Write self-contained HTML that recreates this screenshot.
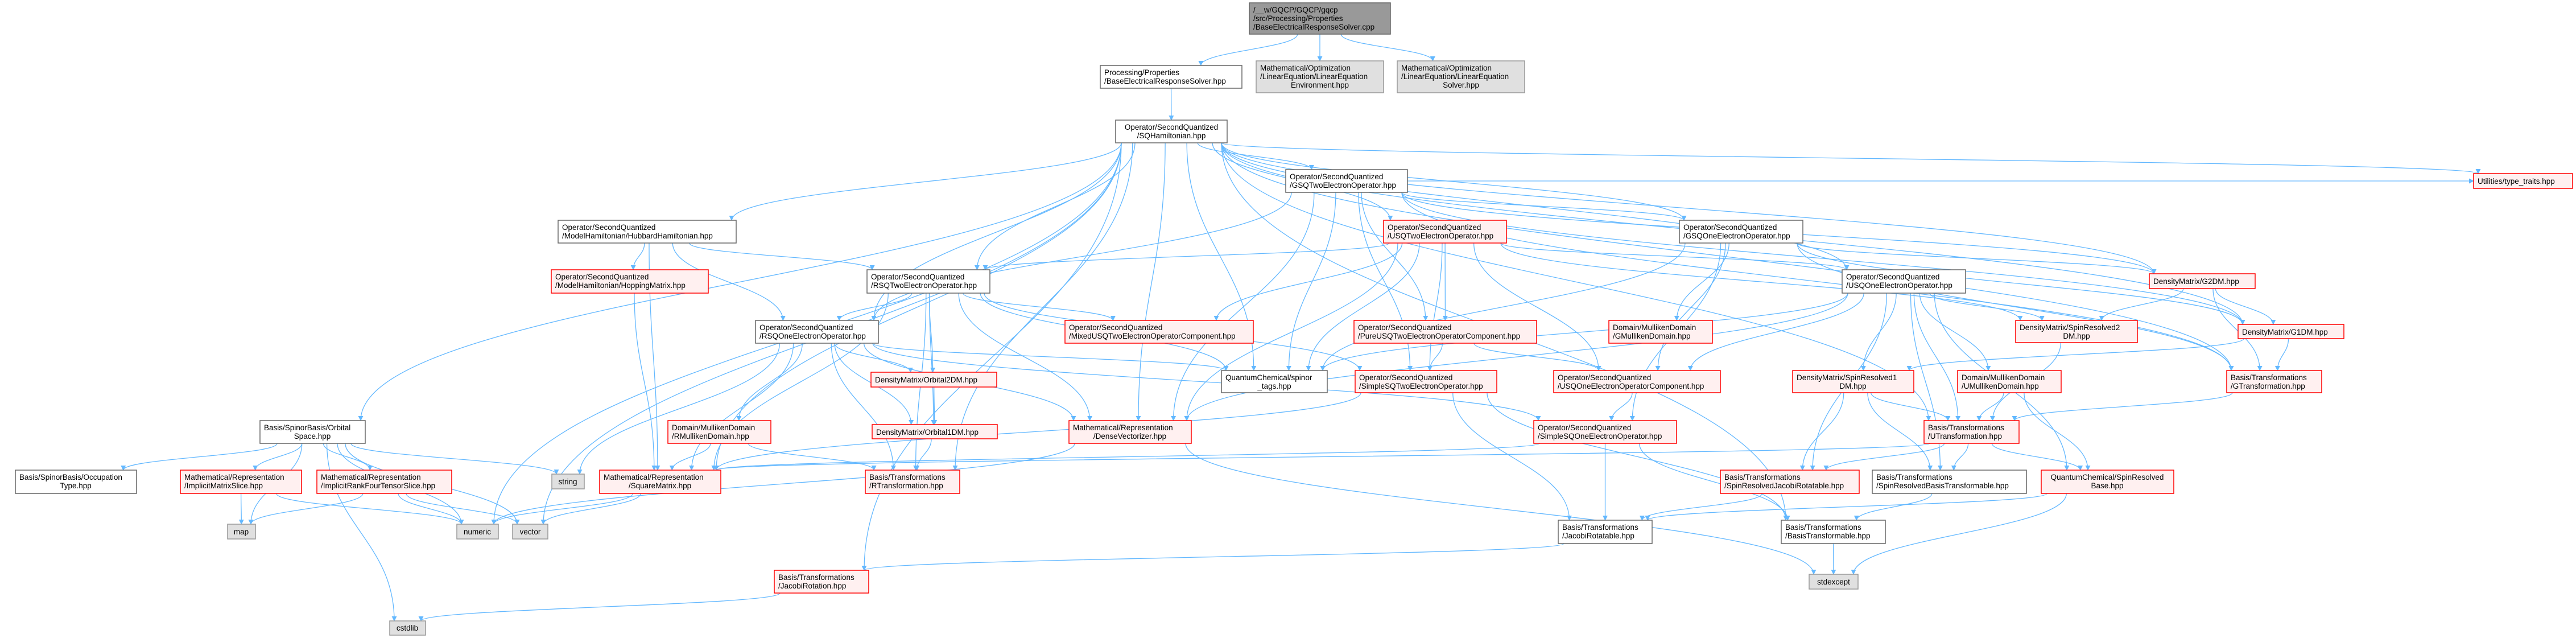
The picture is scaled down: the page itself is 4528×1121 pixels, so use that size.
<!DOCTYPE html>
<html><head><meta charset="utf-8"><style>
html,body{margin:0;padding:0;background:#fff;}
svg{display:block}
text{font-family:"Liberation Sans",Arial,sans-serif;font-size:13.5px;fill:#000}
.w{fill:#fff;stroke:#666;stroke-width:1.5}
.r{fill:#fff0f0;stroke:#f00;stroke-width:1.5}
.g{fill:#e0e0e0;stroke:#999;stroke-width:1.5}
.k{fill:#999;stroke:#666;stroke-width:1.5}
.e{fill:none;stroke:#63b8ff;stroke-width:1.3}
.m{text-anchor:middle}
</style></head><body>
<svg id="s" width="4528" height="1121" xmlns="http://www.w3.org/2000/svg">
<defs><marker id="a" viewBox="0 0 10 10" refX="9" refY="5" markerWidth="9" markerHeight="9" orient="auto" markerUnits="userSpaceOnUse"><path d="M0,0 L10,5 L0,10z" fill="#63b8ff"/></marker></defs>
<g id="edges"></g>
<g id="nodes">
<rect class="k" x="2196" y="5" width="248" height="55"/>
<text x="2203" y="22">/__w/GQCP/GQCP/gqcp</text><text x="2203" y="37">/src/Processing/Properties</text><text x="2203" y="52">/BaseElectricalResponseSolver.cpp</text>

<rect class="w" x="1934" y="115" width="249" height="40"/>
<text x="1941" y="132">Processing/Properties</text><text x="1941" y="147">/BaseElectricalResponseSolver.hpp</text>

<rect class="g" x="2208" y="107" width="224" height="56"/>
<text x="2215" y="124">Mathematical/Optimization</text><text x="2215" y="139">/LinearEquation/LinearEquation</text><text class="m" x="2320" y="154">Environment.hpp</text>

<rect class="g" x="2456" y="107" width="224" height="56"/>
<text x="2463" y="124">Mathematical/Optimization</text><text x="2463" y="139">/LinearEquation/LinearEquation</text><text class="m" x="2568" y="154">Solver.hpp</text>

<rect class="w" x="1961" y="211" width="196" height="40"/>
<text class="m" x="2059" y="228">Operator/SecondQuantized</text><text class="m" x="2059" y="243">/SQHamiltonian.hpp</text>

<rect class="w" x="2260" y="298" width="214" height="40"/>
<text x="2267" y="315">Operator/SecondQuantized</text><text x="2267" y="330">/GSQTwoElectronOperator.hpp</text>

<rect class="w" x="981" y="387" width="313" height="40"/>
<text x="988" y="404">Operator/SecondQuantized</text><text x="988" y="419">/ModelHamiltonian/HubbardHamiltonian.hpp</text>

<rect class="r" x="2432" y="387" width="216" height="40"/>
<text x="2439" y="404">Operator/SecondQuantized</text><text x="2439" y="419">/USQTwoElectronOperator.hpp</text>

<rect class="w" x="2952" y="387" width="217" height="40"/>
<text x="2959" y="404">Operator/SecondQuantized</text><text x="2959" y="419">/GSQOneElectronOperator.hpp</text>

<rect class="r" x="4348" y="305" width="174" height="26"/>
<text x="4355" y="323">Utilities/type_traits.hpp</text>

<rect class="r" x="969" y="474" width="276" height="41"/>
<text x="976" y="491">Operator/SecondQuantized</text><text x="976" y="506">/ModelHamiltonian/HoppingMatrix.hpp</text>

<rect class="w" x="1524" y="474" width="216" height="41"/>
<text x="1531" y="491">Operator/SecondQuantized</text><text x="1531" y="506">/RSQTwoElectronOperator.hpp</text>

<rect class="w" x="3238" y="474" width="217" height="41"/>
<text x="3245" y="491">Operator/SecondQuantized</text><text x="3245" y="506">/USQOneElectronOperator.hpp</text>

<rect class="r" x="3778" y="481" width="186" height="26"/>
<text x="3785" y="499">DensityMatrix/G2DM.hpp</text>

<rect class="w" x="1328" y="563" width="216" height="40"/>
<text x="1335" y="580">Operator/SecondQuantized</text><text x="1335" y="595">/RSQOneElectronOperator.hpp</text>

<rect class="r" x="1872" y="563" width="331" height="40"/>
<text x="1879" y="580">Operator/SecondQuantized</text><text x="1879" y="595">/MixedUSQTwoElectronOperatorComponent.hpp</text>

<rect class="r" x="2380" y="563" width="321" height="40"/>
<text x="2387" y="580">Operator/SecondQuantized</text><text x="2387" y="595">/PureUSQTwoElectronOperatorComponent.hpp</text>

<rect class="r" x="2828" y="563" width="182" height="40"/>
<text x="2835" y="580">Domain/MullikenDomain</text><text x="2835" y="595">/GMullikenDomain.hpp</text>

<rect class="r" x="3543" y="563" width="214" height="39"/>
<text x="3550" y="580">DensityMatrix/SpinResolved2</text><text class="m" x="3650" y="595">DM.hpp</text>

<rect class="r" x="3934" y="570" width="186" height="25"/>
<text x="3941" y="588">DensityMatrix/G1DM.hpp</text>

<rect class="r" x="1531" y="654" width="221" height="26"/>
<text x="1538" y="672">DensityMatrix/Orbital2DM.hpp</text>

<rect class="w" x="2147" y="651" width="186" height="39"/>
<text x="2154" y="668">QuantumChemical/spinor</text><text class="m" x="2240" y="683">_tags.hpp</text>

<rect class="r" x="2382" y="651" width="249" height="39"/>
<text x="2389" y="668">Operator/SecondQuantized</text><text x="2389" y="683">/SimpleSQTwoElectronOperator.hpp</text>

<rect class="r" x="2731" y="651" width="293" height="39"/>
<text x="2738" y="668">Operator/SecondQuantized</text><text x="2738" y="683">/USQOneElectronOperatorComponent.hpp</text>

<rect class="r" x="3151" y="651" width="213" height="39"/>
<text x="3158" y="668">DensityMatrix/SpinResolved1</text><text class="m" x="3257" y="683">DM.hpp</text>

<rect class="r" x="3441" y="651" width="182" height="39"/>
<text x="3448" y="668">Domain/MullikenDomain</text><text x="3448" y="683">/UMullikenDomain.hpp</text>

<rect class="r" x="3914" y="651" width="167" height="39"/>
<text x="3921" y="668">Basis/Transformations</text><text x="3921" y="683">/GTransformation.hpp</text>

<rect class="w" x="457" y="739" width="185" height="40"/>
<text x="464" y="756">Basis/SpinorBasis/Orbital</text><text class="m" x="549" y="771">Space.hpp</text>

<rect class="r" x="1174" y="739" width="181" height="40"/>
<text x="1181" y="756">Domain/MullikenDomain</text><text x="1181" y="771">/RMullikenDomain.hpp</text>

<rect class="r" x="1533" y="746" width="220" height="25"/>
<text x="1540" y="764">DensityMatrix/Orbital1DM.hpp</text>

<rect class="r" x="1879" y="739" width="215" height="40"/>
<text x="1886" y="756">Mathematical/Representation</text><text class="m" x="1986" y="771">/DenseVectorizer.hpp</text>

<rect class="r" x="2696" y="739" width="251" height="40"/>
<text x="2703" y="756">Operator/SecondQuantized</text><text x="2703" y="771">/SimpleSQOneElectronOperator.hpp</text>

<rect class="r" x="3382" y="739" width="167" height="40"/>
<text x="3389" y="756">Basis/Transformations</text><text x="3389" y="771">/UTransformation.hpp</text>

<rect class="w" x="27" y="826" width="213" height="41"/>
<text x="34" y="843">Basis/SpinorBasis/Occupation</text><text class="m" x="133" y="858">Type.hpp</text>

<rect class="r" x="317" y="826" width="213" height="41"/>
<text x="324" y="843">Mathematical/Representation</text><text x="324" y="858">/ImplicitMatrixSlice.hpp</text>

<rect class="r" x="557" y="826" width="237" height="41"/>
<text x="564" y="843">Mathematical/Representation</text><text x="564" y="858">/ImplicitRankFourTensorSlice.hpp</text>

<rect class="g" x="970" y="833" width="57" height="26"/>
<text class="m" x="998" y="851">string</text>

<rect class="r" x="1054" y="826" width="213" height="41"/>
<text x="1061" y="843">Mathematical/Representation</text><text class="m" x="1160" y="858">/SquareMatrix.hpp</text>

<rect class="r" x="1521" y="826" width="166" height="41"/>
<text x="1528" y="843">Basis/Transformations</text><text x="1528" y="858">/RTransformation.hpp</text>

<rect class="r" x="3024" y="826" width="244" height="41"/>
<text x="3031" y="843">Basis/Transformations</text><text x="3031" y="858">/SpinResolvedJacobiRotatable.hpp</text>

<rect class="w" x="3291" y="826" width="271" height="41"/>
<text x="3298" y="843">Basis/Transformations</text><text x="3298" y="858">/SpinResolvedBasisTransformable.hpp</text>

<rect class="r" x="3588" y="826" width="233" height="41"/>
<text class="m" x="3704" y="843">QuantumChemical/SpinResolved</text><text class="m" x="3704" y="858">Base.hpp</text>

<rect class="g" x="400" y="921" width="49" height="26"/>
<text class="m" x="424" y="939">map</text>
<rect class="g" x="803" y="921" width="73" height="26"/>
<text class="m" x="839" y="939">numeric</text>
<rect class="g" x="901" y="921" width="62" height="26"/>
<text class="m" x="932" y="939">vector</text>

<rect class="w" x="2739" y="914" width="165" height="41"/>
<text x="2746" y="931">Basis/Transformations</text><text x="2746" y="946">/JacobiRotatable.hpp</text>

<rect class="w" x="3131" y="914" width="183" height="41"/>
<text x="3138" y="931">Basis/Transformations</text><text x="3138" y="946">/BasisTransformable.hpp</text>

<rect class="r" x="1361" y="1002" width="166" height="40"/>
<text x="1368" y="1019">Basis/Transformations</text><text x="1368" y="1034">/JacobiRotation.hpp</text>

<rect class="g" x="3180" y="1009" width="86" height="26"/>
<text class="m" x="3223" y="1027">stdexcept</text>

<rect class="g" x="685" y="1091" width="63" height="25"/>
<text class="m" x="716" y="1108">cstdlib</text>
</g>
</svg>
<script>
var N={root:[2196,5,2444,60],proc:[1934,115,2183,155],env:[2208,107,2432,163],solv:[2456,107,2680,163],sqh:[1961,211,2157,251],gsq2:[2260,298,2474,338],hub:[981,387,1294,427],usq2:[2432,387,2648,427],gsq1:[2952,387,3169,427],tt:[4348,305,4522,331],hop:[969,474,1245,515],rsq2:[1524,474,1740,515],usq1:[3238,474,3455,515],g2dm:[3778,481,3964,507],rsq1:[1328,563,1544,603],mixed:[1872,563,2203,603],pure:[2380,563,2701,603],gmul:[2828,563,3010,603],sr2dm:[3543,563,3757,602],g1dm:[3934,570,4120,595],o2dm:[1531,654,1752,680],spinor:[2147,651,2333,690],ssq2:[2382,651,2631,690],usq1c:[2731,651,3024,690],sr1dm:[3151,651,3364,690],umul:[3441,651,3623,690],gtr:[3914,651,4081,690],orb:[457,739,642,779],rmul:[1174,739,1355,779],o1dm:[1533,746,1753,771],dv:[1879,739,2094,779],ssq1:[2696,739,2947,779],utr:[3382,739,3549,779],occ:[27,826,240,867],ims:[317,826,530,867],irf:[557,826,794,867],string:[970,833,1027,859],sqm:[1054,826,1267,867],rtr:[1521,826,1687,867],srjr:[3024,826,3268,867],srbt:[3291,826,3562,867],srb:[3588,826,3821,867],map:[400,921,449,947],numeric:[803,921,876,947],vector:[901,921,963,947],jr:[2739,914,2904,955],bt:[3131,914,3314,955],jrot:[1361,1002,1527,1042],stdexcept:[3180,1009,3266,1035],cstdlib:[685,1091,748,1116]};
var E="root proc,root env,root solv,proc sqh,sqh gsq2,sqh hub,sqh rsq2,sqh rsq1,sqh usq2,sqh gsq1,sqh usq1,sqh tt,sqh orb,sqh spinor,sqh dv,sqh sqm,sqh vector,sqh numeric,sqh gtr,sqh utr,sqh rtr,sqh bt,sqh g2dm,sqh g1dm,gsq2 gsq1,gsq2 spinor,gsq2 ssq2,gsq2 pure,gsq2 g2dm,gsq2 g1dm,gsq2 gtr,gsq2 dv,gsq2 rsq1,gsq2 tt,usq2 usq1,usq2 mixed,usq2 pure,usq2 spinor,usq2 ssq2,usq2 sr2dm,usq2 rsq2,usq2 usq1c,usq2 dv,hub rsq2,hub rsq1,hub hop,hub sqm,hop sqm,rsq2 rsq1,rsq2 mixed,rsq2 o2dm,rsq2 o1dm,rsq2 dv,rsq2 spinor,rsq2 ssq2,rsq2 sqm,rsq2 rtr,rsq1 o1dm,rsq1 rmul,rsq1 dv,rsq1 spinor,rsq1 ssq1,rsq1 sqm,rsq1 rtr,rsq1 string,rsq1 o2dm,gsq1 gmul,gsq1 ssq1,gsq1 spinor,gsq1 g1dm,gsq1 gtr,gsq1 usq1c,gsq1 g2dm,usq1 usq1c,usq1 sr1dm,usq1 sr2dm,usq1 umul,usq1 utr,usq1 srjr,usq1 srbt,usq1 srb,usq1 spinor,usq1 dv,g2dm sr2dm,g2dm g1dm,g2dm gtr,sr2dm utr,g1dm sr1dm,g1dm gtr,gtr utr,o2dm o1dm,o1dm rtr,rmul sqm,rmul rtr,dv numeric,dv stdexcept,pure ssq2,pure usq1c,usq1c ssq1,ssq2 jr,ssq2 bt,ssq2 sqm,ssq1 jr,ssq1 bt,ssq1 sqm,sr1dm utr,sr1dm srjr,sr1dm srbt,umul utr,umul srb,utr srjr,utr srbt,utr srb,utr sqm,srjr jr,srbt bt,srb stdexcept,srb jr,bt stdexcept,jr jrot,jrot cstdlib,orb occ,orb ims,orb irf,orb map,orb numeric,orb vector,orb string,orb cstdlib,ims map,ims numeric,irf map,irf numeric,irf vector,sqm numeric,sqm vector,sqh jrot".split(",");
var g=document.getElementById("edges"),h="";
E.forEach(function(p){var q=p.split(" "),s=N[q[0]],t=N[q[1]];if(!s||!t)return;
var scx=(s[0]+s[2])/2,tcx=(t[0]+t[2])/2,sx,sy,tx,ty,d;
if(t[1]>s[3]+5){sx=Math.max(s[0]+10,Math.min(s[2]-10,scx+(tcx-scx)*0.15));sy=s[3];tx=Math.max(t[0]+8,Math.min(t[2]-8,tcx+(scx-tcx)*0.2));ty=t[1];
var dy=(ty-sy)*0.45;d="M"+sx+","+sy+" C"+sx+","+(sy+dy)+" "+tx+","+(ty-dy)+" "+tx+","+ty;}
else{sy=(s[1]+s[3])/2;ty=(t[1]+t[3])/2;if(tcx>scx){sx=s[2];tx=t[0];}else{sx=s[0];tx=t[2];}d="M"+sx+","+sy+" L"+tx+","+ty;}
h+='<path class="e" marker-end="url(#a)" d="'+d+'"/>';});
g.innerHTML=h;
</script>
</body></html>
